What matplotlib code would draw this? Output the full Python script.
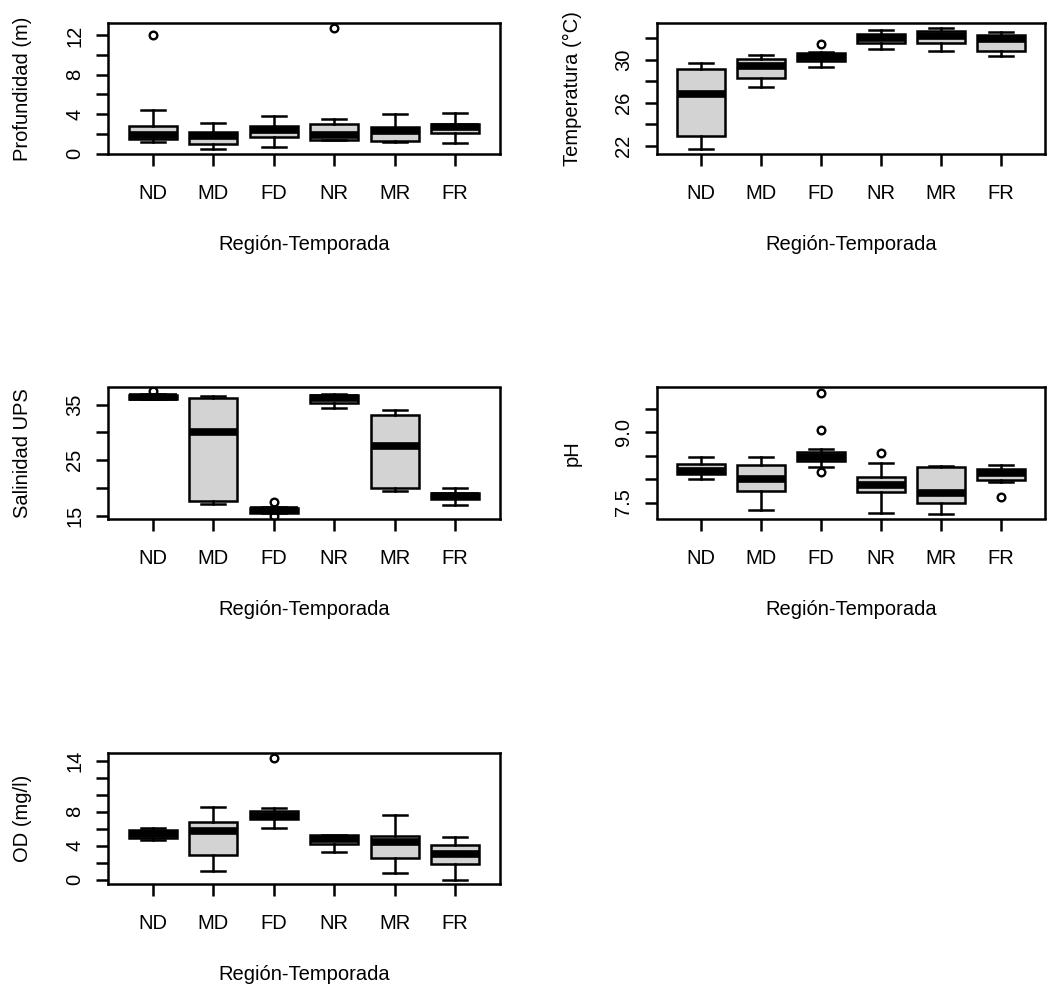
import numpy as np
import matplotlib.pyplot as plt

plt.rcParams['font.family'] = ['Liberation Sans', 'DejaVu Sans']
plt.rcParams['font.size'] = 14.5

groups = ["ND", "MD", "FD", "NR", "MR", "FR"]
xlab = "Región-Temporada"

# (whislo, q1, med, q3, whishi) per group
prof = [(1.12, 1.45, 1.85, 2.75, 4.42), (0.44, 0.98, 1.8, 2.15, 3.06),
        (0.68, 1.72, 2.4, 2.82, 3.84), (1.35, 1.38, 1.85, 2.95, 3.5),
        (1.12, 1.28, 2.3, 2.65, 3.98), (1.02, 2.05, 2.7, 3.0, 4.08)]
prof_out = [[12.0], [], [], [12.8], [], []]

temp = [(21.72, 22.9, 26.8, 29.11, 29.67), (27.5, 28.33, 29.4, 30.04, 30.42),
        (29.33, 29.9, 30.3, 30.6, 30.7), (31.04, 31.6, 32.0, 32.37, 32.78),
        (30.82, 31.53, 32.2, 32.7, 33.0), (30.35, 30.85, 31.9, 32.34, 32.6)]
temp_out = [[], [], [31.47], [], [], []]

sal = [(35.95, 36.0, 36.35, 36.7, 36.9), (17.16, 17.76, 30.0, 36.26, 36.56),
       (15.55, 15.65, 16.1, 16.5, 16.6), (34.3, 35.2, 36.1, 36.8, 36.9),
       (19.56, 20.05, 27.6, 33.08, 34.1), (17.04, 18.06, 18.6, 19.08, 20.05)]
sal_out = [[37.4], [], [17.6, 15.1], [], [], []]

ph = [(8.0, 8.1, 8.18, 8.33, 8.47), (7.34, 7.75, 8.0, 8.3, 8.47),
      (8.26, 8.38, 8.47, 8.57, 8.64), (7.27, 7.72, 7.88, 8.04, 8.34),
      (7.26, 7.49, 7.7, 8.25, 8.28), (7.93, 7.99, 8.13, 8.22, 8.31)]
ph_out = [[], [], [9.84, 9.04, 8.16], [8.56], [], [7.61]]

od = [(4.64, 4.92, 5.35, 5.82, 6.13), (0.98, 2.95, 5.7, 6.8, 8.57),
      (6.02, 7.08, 7.5, 8.06, 8.45), (3.26, 4.17, 4.72, 5.23, 5.25),
      (0.79, 2.6, 4.4, 5.15, 7.63), (0.0, 1.89, 3.03, 4.13, 5.03)]
od_out = [[], [], [14.35], [], [], []]

W, H = 1050, 988
fig = plt.figure(figsize=(W / 100, H / 100), dpi=100)

cols = [(108, 500), (657, 1045)]
rows = [(22.7, 154), (387.5, 518.5), (753.3, 884.3)]

panels = [
    (0, 0, prof, prof_out, "Profundidad (m)", (-0.05, 13.3),
     [0, 2, 4, 6, 8, 10, 12], ['0', '', '4', '', '8', '', '12']),
    (0, 1, temp, temp_out, "Temperatura (°C)", (21.23, 33.46),
     [22, 24, 26, 28, 30, 32], ['22', '', '26', '', '30', '']),
    (1, 0, sal, sal_out, "Salinidad UPS", (14.58, 38.06),
     [15, 20, 25, 30, 35], ['15', '', '25', '', '35']),
    (1, 1, ph, ph_out, "pH", (7.16, 9.95),
     [7.5, 8.0, 8.5, 9.0, 9.5], ['7.5', '', '', '9.0', '']),
    (2, 0, od, od_out, "OD (mg/l)", (-0.55, 14.86),
     [0, 2, 4, 6, 8, 10, 12, 14], ['0', '', '4', '', '8', '', '', '14']),
]

lw = 1.8
for r, c, summ, outs, ylab, ylim, yt, ytl in panels:
    x0, x1 = cols[c]
    y0, y1 = rows[r]
    ax = fig.add_axes([x0 / W, 1 - y1 / H, (x1 - x0) / W, (y1 - y0) / H])
    stats = []
    for (lo, q1, med, q3, hi), fl in zip(summ, outs):
        stats.append(dict(whislo=lo, q1=q1, med=med, q3=q3, whishi=hi, fliers=fl))
    ax.bxp(stats, positions=range(1, 7), widths=0.8, capwidths=0.4,
           patch_artist=True,
           boxprops=dict(facecolor='#d3d3d3', edgecolor='black', linewidth=lw),
           medianprops=dict(color='black', linewidth=5.5, solid_capstyle='butt'),
           whiskerprops=dict(color='black', linewidth=lw),
           capprops=dict(color='black', linewidth=lw),
           flierprops=dict(marker='o', markerfacecolor='none',
                           markeredgecolor='black', markersize=5.5,
                           markeredgewidth=1.7))
    ax.set_xlim(0.26, 6.74)
    ax.set_ylim(*ylim)
    ax.set_xticks(range(1, 7))
    ax.set_xticklabels(groups)
    ax.set_yticks(yt)
    ax.set_yticklabels(ytl, rotation=90, va='center')
    ax.tick_params(direction='out', length=8.6, width=lw)
    ax.tick_params(axis='x', pad=13)
    ax.tick_params(axis='y', pad=8.4)
    for sp in ax.spines.values():
        sp.set_linewidth(lw)
    ax.text(0.5, -96 / (y1 - y0), xlab, transform=ax.transAxes,
            ha='center', va='baseline')
    ax.text(-85 / (x1 - x0), 0.5, ylab, transform=ax.transAxes,
            rotation=90, ha='center', va='center')

fig.savefig('out.png', dpi=100, facecolor='white')
